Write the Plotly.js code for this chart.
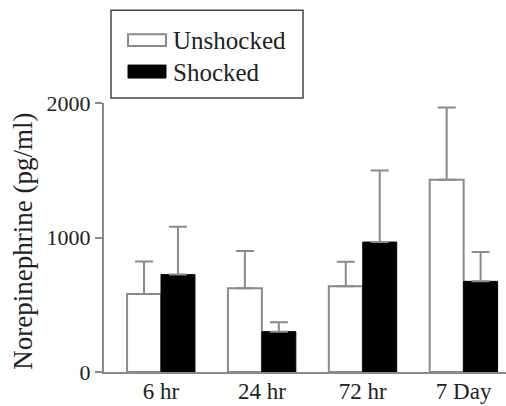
<!DOCTYPE html>
<html>
<head>
<meta charset="utf-8">
<script src="https://cdn.plot.ly/plotly-3.0.1.min.js"></script>
<style>html,body{margin:0;padding:0;background:#fff;}#chart{width:506px;height:406px;}</style>
</head>
<body>
<div id="chart"></div>
<script>
// ---- data ----
var categories = ['6 hr', '24 hr', '72 hr', '7 Day'];
var seriesNames = ['Unshocked', 'Shocked'];
var unshockedMean = [580, 622, 637, 1429];
var unshockedErr = [242, 278, 183, 537];
var shockedMean = [724, 300, 966, 674];
var shockedErr = [356, 70, 532, 218];
var yTickVals = [0, 1000, 2000];
var yTickText = ['0', '1000', '2000'];
var yTitle = 'Norepinephrine (pg/ml)';

var zeros = categories.map(function () { return 0; });
var GRAY = '#8a8a8a';
var FONT = '"Liberation Serif", "Times New Roman", Times, serif';

var traces = [
  {
    type: 'bar', name: seriesNames[0], x: categories, y: unshockedMean,
    marker: {color: '#ffffff', line: {color: GRAY, width: 2}},
    error_y: {type: 'data', symmetric: false, array: unshockedErr, arrayminus: zeros,
              color: GRAY, thickness: 2, width: 9},
    showlegend: false
  },
  {
    type: 'bar', name: seriesNames[1], x: categories, y: shockedMean,
    marker: {color: '#000000', line: {color: '#000000', width: 1}},
    error_y: {type: 'data', symmetric: false, array: shockedErr, arrayminus: zeros,
              color: GRAY, thickness: 2, width: 9},
    showlegend: false
  }
];

// plot area in pixels
var L = 104, T = 103, W = 402, H = 269.5;
function px(x) { return (x - L) / W; }
function py(y) { return (T + H - y) / H; }

var shapes = [
  {type: 'rect', xref: 'paper', yref: 'paper', x0: px(111), x1: px(303), y0: py(98), y1: py(10),
   line: {color: '#444', width: 1.5}, fillcolor: 'rgba(0,0,0,0)', layer: 'above'},
  {type: 'rect', xref: 'paper', yref: 'paper', x0: px(128), x1: px(166), y0: py(46), y1: py(34),
   line: {color: GRAY, width: 2}, fillcolor: '#ffffff', layer: 'above'},
  {type: 'rect', xref: 'paper', yref: 'paper', x0: px(128), x1: px(166), y0: py(78), y1: py(65),
   line: {color: '#000', width: 1}, fillcolor: '#000000', layer: 'above'}
];
var annotations = [
  {xref: 'paper', yref: 'paper', x: px(171), y: py(40), xanchor: 'left', yanchor: 'middle',
   text: seriesNames[0], showarrow: false, font: {family: FONT, size: 25, color: '#222'}},
  {xref: 'paper', yref: 'paper', x: px(171), y: py(72), xanchor: 'left', yanchor: 'middle',
   text: seriesNames[1], showarrow: false, font: {family: FONT, size: 25, color: '#222'}},
  // y-axis title
  {xref: 'paper', yref: 'paper', x: px(23), y: py(242), xanchor: 'center', yanchor: 'middle',
   textangle: -90, text: yTitle, showarrow: false, font: {family: FONT, size: 27, color: '#222'}}
];

var layout = {
  width: 506, height: 406,
  margin: {l: L, r: 506 - L - W, t: T, b: 406 - T - H, pad: 0},
  paper_bgcolor: '#fff', plot_bgcolor: '#fff',
  font: {family: FONT, color: '#222'},
  barmode: 'group', bargap: 0.327, bargroupgap: 0,
  showlegend: false,
  xaxis: {
    range: [-0.565, 3.42], showline: true, linecolor: GRAY, linewidth: 2,
    ticks: '', showgrid: false, zeroline: false, ticklabelstandoff: -3,
    tickfont: {family: FONT, size: 23, color: '#222'}
  },
  yaxis: {
    range: [0, 2000], showline: true, linecolor: GRAY, linewidth: 2,
    ticks: 'outside', ticklen: 7, tickcolor: GRAY, tickwidth: 2,
    tickvals: yTickVals, ticktext: yTickText,
    showgrid: false, zeroline: false,
    tickfont: {family: FONT, size: 22, color: '#222'}
  },
  shapes: shapes,
  annotations: annotations
};

Plotly.newPlot('chart', traces, layout, {displayModeBar: false, staticPlot: true});
</script>
</body>
</html>
